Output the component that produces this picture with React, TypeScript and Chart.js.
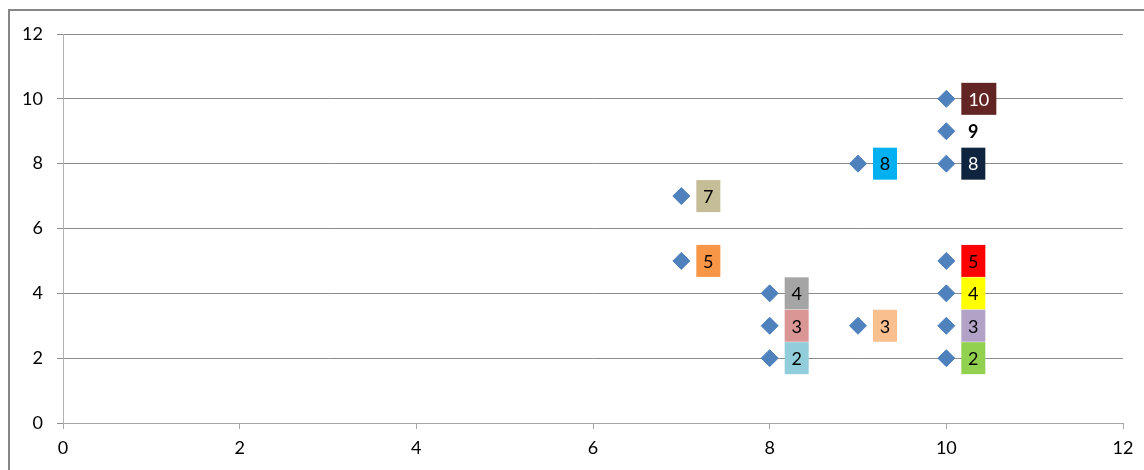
import React, { useEffect, useRef } from "react";
import { Chart, registerables } from "chart.js";

Chart.register(...registerables);

const xValues = [10, 10, 10, 9, 7, 7, 8, 8, 8, 9, 10, 10, 10, 10];
const yValues = [10, 9, 8, 8, 7, 5, 4, 3, 2, 3, 5, 4, 3, 2];
const labelFill = [
  "#632523", "", "#0f243e", "#00b0f0", "#c4bd97", "#f79646", "#a5a5a5",
  "#da9694", "#92cddc", "#fabf8f", "#ff0000", "#ffff00", "#b2a2c7", "#92d050",
];
const labelText = [
  "#ffffff", "#000000", "#ffffff", "#000000", "#000000", "#000000", "#000000",
  "#000000", "#000000", "#000000", "#000000", "#000000", "#000000", "#000000",
];
const labelBold = [false, true, false, false, false, false, false, false, false, false, false, false, false, false];
const axisTicks = [0, 2, 4, 6, 8, 10, 12];

const FONT = "Lato, 'Open Sans', sans-serif";

const labelPlugin = {
  id: "boxLabels",
  afterDatasetsDraw(chart: any) {
    const ctx = chart.ctx;
    const meta = chart.getDatasetMeta(0);
    ctx.save();
    meta.data.forEach((pt: any, i: number) => {
      const text = String(yValues[i]);
      ctx.font = `${labelBold[i] ? "bold " : ""}18px ${FONT}`;
      const tw = ctx.measureText(text).width;
      const w = Math.round(tw + 14);
      const h = 32;
      const left = pt.x + 15;
      const top = pt.y - h / 2;
      if (labelFill[i]) {
        ctx.fillStyle = labelFill[i];
        ctx.fillRect(left, top, w, h);
      }
      ctx.fillStyle = labelText[i];
      ctx.textAlign = "center";
      ctx.textBaseline = "middle";
      ctx.fillText(text, left + w / 2, pt.y + 1);
    });
    ctx.restore();
  },
};

const borderPlugin = {
  id: "outerBorder",
  afterDraw(chart: any) {
    const ctx = chart.ctx;
    ctx.save();
    ctx.strokeStyle = "#868686";
    ctx.lineWidth = 2;
    ctx.strokeRect(9, 10, chart.width + 20, chart.height + 20);
    ctx.restore();
  },
};

export default function App() {
  const ref = useRef<HTMLCanvasElement>(null);
  useEffect(() => {
    if (!ref.current) return;
    const chart = new Chart(ref.current, {
      type: "scatter",
      data: {
        datasets: [
          {
            data: xValues.map((x, i) => ({ x, y: yValues[i] })),
            pointStyle: "rectRot",
            pointRadius: 8.5,
            backgroundColor: "#4f81bd",
            borderColor: "#4f81bd",
            borderWidth: 1,
          },
        ],
      },
      options: {
        animation: false,
        responsive: false,
        layout: { padding: { top: 34, right: 21, left: 8, bottom: 0 } },
        plugins: { legend: { display: false }, tooltip: { enabled: false } },
        scales: {
          x: {
            type: "linear",
            min: 0,
            max: 12,
            afterBuildTicks: (s: any) => {
              s.ticks = axisTicks.map((v) => ({ value: v }));
            },
            afterFit: (s: any) => {
              s.height = 47;
            },
            grid: {
              drawOnChartArea: false,
              drawTicks: true,
              tickLength: 6,
              color: "#a6a6a6",
            },
            border: { color: "#a6a6a6" },
            ticks: { padding: 8, color: "#000000", font: { family: FONT, size: 18 } },
          },
          y: {
            type: "linear",
            min: 0,
            max: 12,
            afterBuildTicks: (s: any) => {
              s.ticks = axisTicks.map((v) => ({ value: v }));
            },
            afterFit: (s: any) => {
              s.width = 55;
            },
            grid: {
              drawOnChartArea: true,
              drawTicks: true,
              tickLength: 6,
              color: "#8c8c8c",
            },
            border: { color: "#b3b3b3" },
            ticks: { padding: 14, color: "#000000", font: { family: FONT, size: 18 } },
          },
        },
      },
      plugins: [labelPlugin, borderPlugin],
    });
    return () => chart.destroy();
  }, []);
  return (
    <div style={{ position: "fixed", left: 0, top: 0, width: 1144, height: 470, background: "#fff" }}>
      <canvas ref={ref} width={1144} height={470} style={{ display: "block" }} />
    </div>
  );
}
